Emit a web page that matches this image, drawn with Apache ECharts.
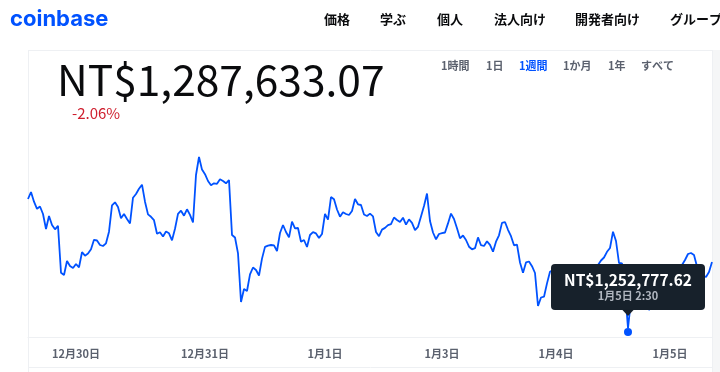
<!DOCTYPE html>
<html><head><meta charset="utf-8">
<script src="https://cdn.jsdelivr.net/npm/echarts@6/dist/echarts.min.js"></script>
<style>html,body{margin:0;padding:0;background:#fff;}#c{width:720px;height:372px;}</style>
</head><body><div id="c"></div>
<script>
// Price series (NT$), one week
const prices = [
1320928,1324624,1319502,1315754,1316968,1313008,1305088,1311952,1307200,1304930,
1306778,1281962,1280800,1288192,1285552,1284496,1286608,1284866,1292838,1290990,
1292099,1294422,1299386,1299016,1296640,1296112,1297538,1303662,1317602,1319186,
1316704,1310790,1313008,1310368,1308045,1321614,1323568,1326314,1328478,1319502,
1312797,1311530,1309734,1302606,1303346,1301128,1303768,1302818,1299122,1305246,
1313061,1314750,1312110,1315490,1312533,1308520,1333600,1343104,1336451,1334022,
1330432,1328214,1329218,1328954,1331330,1330432,1329218,1330960,1301920,1300600,
1292258,1266544,1273408,1272352,1281117,1284760,1283440,1280536,1289459,1295637,
1296323,1296640,1296429,1293472,1302976,1307200,1303504,1300706,1308942,1305458,
1305616,1298382,1299280,1295584,1301920,1303398,1302765,1300389,1302448,1313114,
1310051,1321984,1320770,1315384,1311582,1313958,1313008,1312480,1314592,1320928,
1318130,1317760,1312744,1311952,1313219,1311794,1303504,1301286,1304771,1305669,
1307094,1307622,1311160,1309840,1308784,1311054,1307411,1310157,1308362,1304454,
1306250,1311741,1317232,1323832,1309312,1303240,1299650,1302448,1302870,1303240,
1308045,1313219,1310368,1305458,1300178,1301656,1299280,1295742,1294370,1294950,
1300653,1296534,1296112,1298594,1296746,1293102,1298382,1301762,1308309,1308784,
1304666,1301286,1296482,1296851,1287400,1282014,1287453,1287928,1285446,1281856,
1264432,1268920,1269342,1276365,1282542,1283440,1281328,1284496,1282384,1280272,
1283176,1279216,1281064,1278160,1281328,1283440,1285024,1283704,1281592,1284232,
1286080,1288456,1290040,1293050,1295056,1303662,1298752,1287136,1286925,1272880,
1252777.62,1267600,1269184,1268656,1273144,1270768,1266544,1262320,1265488,1270504,
1272880,1274992,1277104,1278688,1278160,1279216,1282384,1283968,1286080,1288720,
1291888,1292416,1291360,1285288,1282120,1280536,1279744,1282384,1287633.07
];
const tickIndex = [16, 59, 99, 138, 176, 214];
const tickLabels = ['12月30日', '12月31日', '1月1日', '1月3日', '1月4日', '1月5日'];
const currentPrice = 'NT$1,287,633.07';
const changePct = '-2.06%';
const hoverIndex = 200;
const hoverTime = '1月5日 2:30';
const navItems = ['価格', '学ぶ', '個人', '法人向け', '開発者向け', 'グループ'];
const ranges = ['1時間', '1日', '1週間', '1か月', '1年', 'すべて'];
const activeRange = '1週間';

const cats = prices.map((_, i) => String(i));
const FONT = '"Noto Sans CJK JP", "Noto Sans", sans-serif';
const fmt = v => 'NT$' + v.toLocaleString('en-US', {minimumFractionDigits: 2, maximumFractionDigits: 2});

const chart = echarts.init(document.getElementById('c'), null, {renderer: 'canvas'});

const navX = [324, 380, 437, 494, 575, 670];
const rangeX = [441, 486, 519, 563, 608, 641];
const g = [];
// frame
g.push({type:'rect', shape:{x:713, y:50, width:7, height:322}, style:{fill:'#f5f6f7'}, silent:true});
g.push({type:'line', shape:{x1:28, y1:50.5, x2:713, y2:50.5}, style:{stroke:'#eef0f3', lineWidth:1}});
g.push({type:'line', shape:{x1:28.5, y1:50, x2:28.5, y2:372}, style:{stroke:'#eef0f3', lineWidth:1}});
g.push({type:'line', shape:{x1:712.5, y1:50, x2:712.5, y2:372}, style:{stroke:'#eef0f3', lineWidth:1}});
g.push({type:'line', shape:{x1:28, y1:367.5, x2:713, y2:367.5}, style:{stroke:'#eef0f3', lineWidth:1}});
// nav
g.push({type:'text', left:10, top:8, style:{text:'coinbase', fill:'#0052ff', font:'bold 22px Inter, Roboto, sans-serif'}});
navItems.forEach((t, i) => g.push({type:'text', left:navX[i], top:13, style:{text:t, fill:'#0a0b0d', font:'bold 13px ' + FONT}}));
// price
g.push({type:'text', left:57, top:59, style:{text:currentPrice, fill:'#0a0b0d', font:'400 42.5px ' + FONT}});
g.push({type:'text', left:72, top:106, style:{text:changePct, fill:'#cf202f', font:'400 15px ' + FONT}});
ranges.forEach((t, i) => g.push({type:'text', left:rangeX[i], top:60, style:{text:t, fill: t === activeRange ? '#0052ff' : '#5b616e', font:'bold 11px ' + FONT}}));

chart.setOption({
  animation: false,
  grid: {left: 28, right: 8, top: 150, bottom: 35},
  xAxis: {
    type: 'category', data: cats, boundaryGap: false,
    axisLine: {show: true, lineStyle: {color: '#eef0f3', width: 1}},
    axisTick: {show: false},
    axisLabel: {
      interval: (idx) => tickIndex.indexOf(idx) >= 0,
      formatter: (val, idx) => { const k = tickIndex.indexOf(Number(val)); return k >= 0 ? tickLabels[k] : ''; },
      color: '#5b616e', fontSize: 11, fontWeight: 'bold', fontFamily: FONT, margin: 11
    },
    splitLine: {show: false}
  },
  yAxis: {type: 'value', min: 1248064, max: 1346800, show: false, splitLine: {show: false}},
  series: [{
    type: 'line', data: prices, showSymbol: false, symbol: 'none',
    lineStyle: {color: '#0052ff', width: 1.8}, silent: true,
    markPoint: {
      symbol: 'circle', symbolSize: 8, symbolOffset: [0, 4], itemStyle: {color: '#0052ff'}, label: {show: false},
      data: [{coord: [String(hoverIndex), prices[hoverIndex]]}]
    }
  }],
  graphic: g
});

const p = chart.convertToPixel({xAxisIndex: 0, yAxisIndex: 0}, [hoverIndex, prices[hoverIndex]]);
const cx = p[0], cy = p[1] + 4;
const bw = 154, bh = 46;
const tip = [
  {type:'rect', shape:{x:cx - bw/2, y:cy - 68, width:bw, height:bh, r:4}, style:{fill:'#17212b'}, z:100},
  {type:'polygon', shape:{points:[[cx-6, cy-22.5],[cx+6, cy-22.5],[cx, cy-16]]}, style:{fill:'#17212b'}, z:100},
  {type:'text', x:cx, y:cy - 52, style:{text:fmt(prices[hoverIndex]), fill:'#ffffff', font:'bold 15.5px ' + FONT, align:'center', verticalAlign:'middle'}, z:101},
  {type:'text', x:cx, y:cy - 36, style:{text:hoverTime, fill:'#b1b7c0', font:'bold 11px ' + FONT, align:'center', verticalAlign:'middle'}, z:101}
];
chart.setOption({graphic: g.concat(tip)});
</script></body></html>
